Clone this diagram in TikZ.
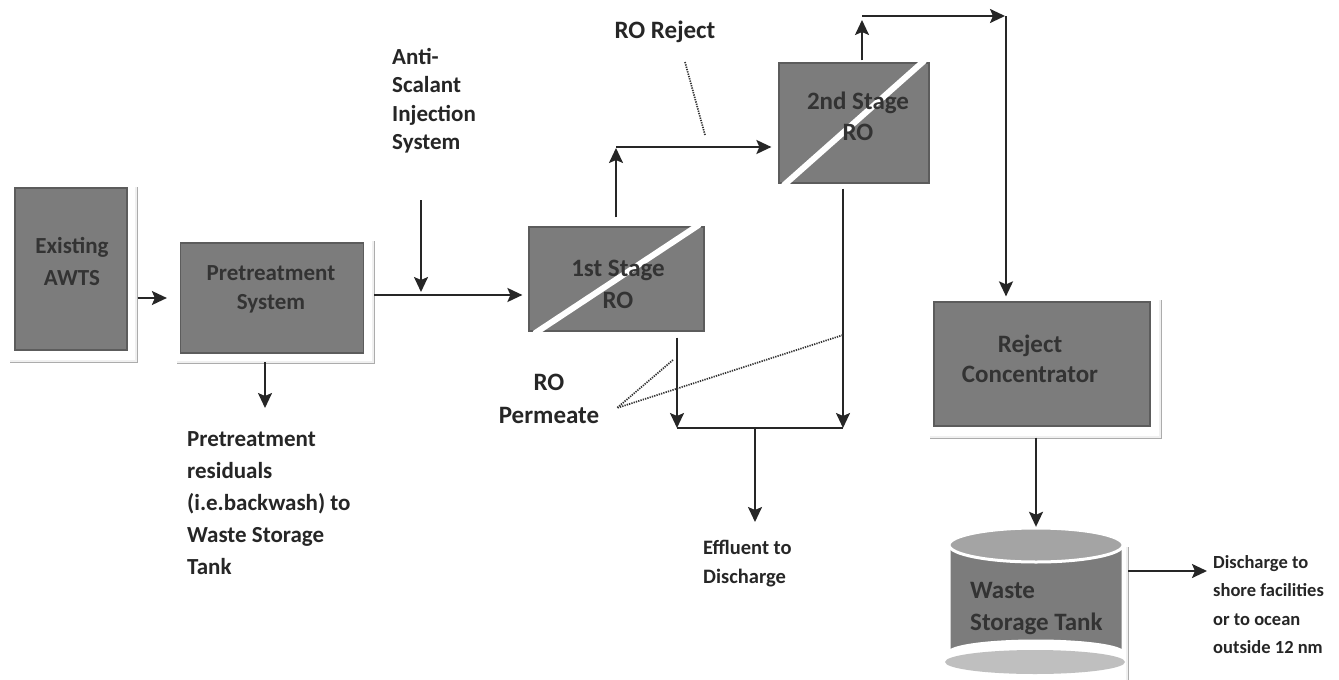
\documentclass[tikz,border=0pt]{standalone}
\usepackage{fontspec}
\setmainfont{Carlito}
\usetikzlibrary{arrows.meta,calc}
\definecolor{boxfill}{HTML}{7C7C7C}
\definecolor{boxedge}{HTML}{5C5C5C}
\definecolor{boxtext}{HTML}{333333}
\definecolor{ink}{HTML}{262626}
\definecolor{topfill}{HTML}{A4A4A4}
\tikzset{
  procbox/.style={draw=boxedge, fill=boxfill, line width=1.2pt, inner sep=0pt},
  boxlabel/.style={text=boxtext, font=\bfseries\fontsize{25}{32}\selectfont, align=center, inner sep=0pt, anchor=north},
  outlabel/.style={text=ink, font=\bfseries\fontsize{23}{32}\selectfont, align=left, inner sep=0pt, anchor=north west},
  smalllabel/.style={text=ink, font=\bfseries\fontsize{18.5}{28.5}\selectfont, align=left, inner sep=0pt, anchor=north west},
  flow/.style={draw=ink, line width=2pt},
  arr/.style={flow, -{Stealth[length=15pt,width=14pt,inset=3pt]}},
  frameline/.style={draw=gray!65, line width=0.7pt, double=gray!12, double distance=1.6pt},
  leader/.style={draw=gray!40!black, line width=1.7pt, dash pattern=on 1.3pt off 1.1pt},
  stripe/.style={draw=white, line width=6pt}
}
\begin{document}
\begin{tikzpicture}[x=1pt,y=-1pt]
\useasboundingbox[fill=white] (0,0) rectangle (1339,680);

% ---------- frames (shadow lines) ----------
\draw[frameline] (136,187) -- (136,361) -- (10,361);
\draw[frameline] (373,241) -- (373,362) -- (177,362);
\draw[frameline] (1160,300) -- (1160,437) -- (930,437);
\draw[frameline] (1127,547) -- (1127,680);

% ---------- boxes ----------
\node[procbox, minimum width=112pt, minimum height=162pt] (awts) at (71,269) {};
\node[boxlabel, font=\bfseries\fontsize{23}{32}\selectfont] (awtsT) at (72,237) {Existing\\AWTS};

\node[procbox, minimum width=183pt, minimum height=110pt] (pre) at (272,298) {};
\node[boxlabel, font=\bfseries\fontsize{23}{29}\selectfont] (preT) at (271,265) {Pretreatment\\System};

\node[procbox, minimum width=175pt, minimum height=104pt] (ro1) at (616.5,279) {};
\begin{scope}
  \clip ($(ro1.south west)+(-2,2)$) rectangle ($(ro1.north east)+(2,-2)$);
  \draw[stripe] ($(ro1.south west)+(6,2)$) -- ($(ro1.north east)+(-5,-2)$);
\end{scope}
\node[boxlabel] (ro1T) at (618,260) {1st Stage\\RO};

\node[procbox, minimum width=150pt, minimum height=120pt] (ro2) at (854,123) {};
\begin{scope}
  \clip ($(ro2.south west)+(-2,2)$) rectangle ($(ro2.north east)+(2,-2)$);
  \draw[stripe] ($(ro2.south west)+(5,2)$) -- ($(ro2.north east)+(-5,-2)$);
\end{scope}
\node[boxlabel, font=\bfseries\fontsize{25}{31}\selectfont] (ro2T) at (858,92) {2nd Stage\\RO};

\node[procbox, minimum width=216pt, minimum height=124pt] (rc) at (1042,364) {};
\node[boxlabel, font=\bfseries\fontsize{25}{30}\selectfont] (rcT) at (1030,335) {Reject\\Concentrator};

% ---------- tank ----------
\node[minimum width=174pt, minimum height=146pt, inner sep=0pt] (tank) at (1036,601) {};
\fill[gray!50] (1035,662) ellipse [x radius=90pt, y radius=12pt];
\draw[white, line width=3pt, fill=boxfill] (949,545) -- (949,653) arc [start angle=180, end angle=360, x radius=87pt, y radius=-12pt] -- (1123,545) -- cycle;
\draw[white, line width=3pt, fill=topfill] (1036,545) ellipse [x radius=87pt, y radius=17pt];
\node[boxlabel, anchor=north west, align=left] (tankT) at (970,582) {Waste\\Storage Tank};

% ---------- outside labels ----------
\node[outlabel, font=\bfseries\fontsize{23}{28.5}\selectfont] (anti) at (392,48) {Anti-\\Scalant\\Injection\\System};
\node[outlabel] (resid) at (187,431) {Pretreatment\\residuals\\(i.e.backwash) to\\Waste Storage\\Tank};
\node[text=ink, font=\bfseries\fontsize{25}{32}\selectfont, inner sep=0pt, anchor=base] (rorej) at (665,38) {RO Reject};
\node[text=ink, font=\bfseries\fontsize{25}{33}\selectfont, align=center, inner sep=0pt, anchor=north] (perm) at (549,374) {RO\\Permeate};
\node[smalllabel, font=\bfseries\fontsize{20.5}{29}\selectfont] (eff) at (703,540) {Effluent to\\Discharge};
\node[smalllabel] (dis) at (1213,555) {Discharge to\\shore facilities\\or to ocean\\outside 12 nm};

% ---------- junction coordinates ----------
\coordinate (j1) at (421,295);
\coordinate (antiS) at (421,200);
\coordinate (c1) at (616,147);
\coordinate (c2) at (862,16);
\coordinate (c3) at (1006,16);
\coordinate (p1) at (677,428);
\coordinate (p2) at (843,428);
\coordinate (p3) at (755,428);
\coordinate (tout) at (1128,571);
\coordinate (rrA) at (685,62);
\coordinate (rrB) at (705,135);
\coordinate (pmA) at (617,408);
\coordinate (pmB) at (673,360);
\coordinate (pmC) at (843,335);
\coordinate (resTop) at (265,362);

% ---------- connectors ----------
\draw[arr, shorten <=10pt, shorten >=13pt] (awts.east |- pre) -- (pre.west);
\draw[arr, shorten <=10pt, shorten >=6pt] (pre.east |- j1) -- (ro1.west |- j1);
\draw[arr, shorten >=3pt] (antiS) -- (j1);
\draw[arr] (resTop) -- (265,408);

\draw[arr, shorten <=9pt, shorten >=1pt] (ro1.north -| c1) -- (c1);
\draw[arr, shorten >=7pt] (c1) -- (ro2.west |- c1);

\draw[arr, shorten <=2pt, shorten >=4pt] (ro2.north -| c2) -- (c2);
\draw[arr, shorten >=1pt] (c2) -- (c3);
\draw[arr, shorten >=5pt] (c3) -- (rc.north -| c3);

\draw[arr, shorten <=6pt] (ro1.south -| p1) -- (p1);
\draw[arr, shorten <=5pt] (ro2.south -| p2) -- (p2);
\draw[flow] (p1) -- (p2);
\draw[arr, shorten >=18pt] (p3) -- (p3 |- eff.north);

\draw[arr, shorten <=11pt, shorten >=1pt] (rc.south -| tank) -- (tank.north);
\draw[arr, shorten >=6pt] (tout) -- (dis.west |- tout);

% ---------- leaders ----------
\draw[leader] (rrA) -- (rrB);
\draw[leader] (pmB) -- (pmA) -- (pmC);
\end{tikzpicture}
\end{document}
